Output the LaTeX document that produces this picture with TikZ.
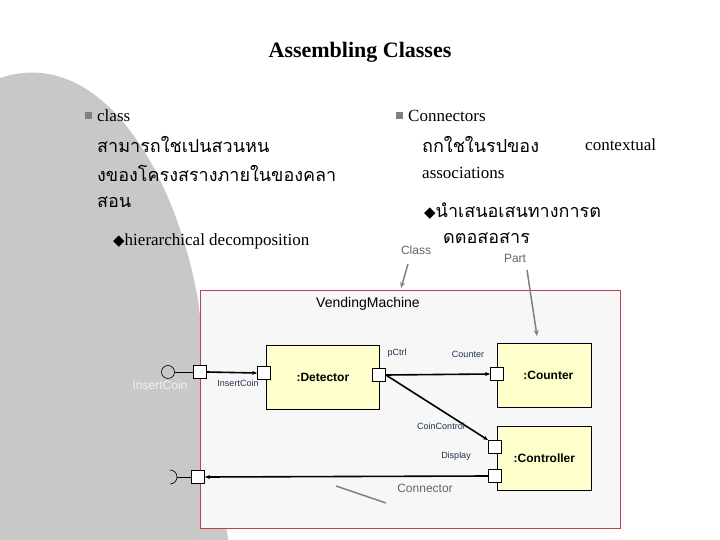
\documentclass[tikz,border=0pt]{standalone}
\usepackage{fontspec}
\setmainfont{Liberation Serif}
\newfontfamily\thai[Script=Thai]{Loma}
\newfontfamily\djfont{DejaVu Sans}
\newfontfamily\arl{Liberation Sans}
\usetikzlibrary{arrows.meta}
\definecolor{bgray}{HTML}{C8C8C8}
\definecolor{boxfill}{HTML}{F7F7F7}
\definecolor{boxline}{HTML}{C04050}
\definecolor{part}{HTML}{FFFFCC}
\definecolor{lbl}{HTML}{1F3050}
\tikzset{
 txt/.style={anchor=west,inner sep=0pt,font=\fontsize{17}{20}\selectfont},
 thaitxt/.style={anchor=west,inner sep=0pt,font=\thai\fontsize{18}{20}\selectfont},
 partbox/.style={draw,fill=part,line width=0.8pt,inner sep=0pt},
 portbox/.style={draw,fill=white,line width=0.8pt,minimum size=13pt,inner sep=0pt},
 small/.style={inner sep=0pt,font=\arl\fontsize{9}{10}\selectfont,text=lbl},
 conn/.style={line width=1.6pt,-{Stealth[length=5pt,width=4pt]}},
 grayarr/.style={draw=gray,line width=1.5pt,-{Stealth[length=6pt,width=5pt]}},
 bul/.style={fill=gray,minimum size=7pt,inner sep=0pt}
}
\begin{document}
\begin{tikzpicture}[x=1pt,y=-1pt]
\useasboundingbox (0,0) rectangle (720,540);
\fill[white] (0,0) rectangle (720,540);
\fill[bgray] (0,78) .. controls (100,45) and (175,170) .. (198,300) -- (228,540) -- (0,540) -- cycle;
\node[inner sep=0pt,font=\bfseries\fontsize{22}{25}\selectfont] (title) at (360,52) {Assembling Classes};
% left column
\node[bul] (b1) at (88,116) {};
\node[txt] (t1) at (97,116) {class};
\node[thaitxt] (t2) at (97,144) {สามารถใชเปนสวนหน};
\node[thaitxt] (t3) at (97,173) {งของโครงสรางภายในของคลา};
\node[thaitxt] (t4) at (97,202) {สอน};
\node[txt] (t5) at (113,241) {{\djfont\fontsize{15}{17}\selectfont◆}hierarchical decomposition};
% right column
\node[bul] (b2) at (399,116) {};
\node[txt] (r1) at (408,116) {Connectors};
\node[thaitxt] (r2) at (422,144) {ถกใชในรปของ};
\node[txt] (r3) at (585,145) {contextual};
\node[txt] (r4) at (422,173) {associations};
\node[thaitxt] (r5) at (424,211) {{\djfont\fontsize{15}{17}\selectfont◆}นำเสนอเสนทางการต};
\node[thaitxt] (r6) at (443,238) {ดตอสอสาร};
\node[inner sep=0pt,font=\arl\fontsize{12}{14}\selectfont,text=gray!80!black] (cls) at (416,250) {Class};
\node[inner sep=0pt,font=\arl\fontsize{12}{14}\selectfont,text=gray!80!black] (prt) at (515,258) {Part};
% outer box
\node[draw=boxline,fill=boxfill,line width=0.8pt,minimum width=420pt,minimum height=238pt,inner sep=0pt,anchor=north west] (vm) at (200,290) {};
\node[inner sep=0pt,font=\arl\fontsize{14}{16}\selectfont] (vmt) at (368,304) {VendingMachine};
\coordinate (ct) at (408,264);
\coordinate (ch) at (401,288);
\draw[grayarr] (ct) -- (ch);
\coordinate (pt) at (527,270);
\coordinate (ph) at (537,336);
\draw[grayarr] (pt) -- (ph);
% parts
\node[partbox,minimum width=113pt,minimum height=64pt,anchor=north west] (det) at (266,345) {};
\node[font=\arl\bfseries\fontsize{12}{14}\selectfont] at (det.center) {:Detector};
\node[partbox,minimum width=94pt,minimum height=64pt,anchor=north west] (cnt) at (497,343) {};
\node[font=\arl\bfseries\fontsize{12}{14}\selectfont] at ([xshift=4pt]cnt.center) {:Counter};
\node[partbox,minimum width=94pt,minimum height=64pt,anchor=north west] (ctl) at (497,426) {};
\node[font=\arl\bfseries\fontsize{12}{14}\selectfont] at (ctl.center) {:Controller};
% ports
\node[portbox] (op1) at (200,372) {};
\node[portbox] (dl) at (264,373) {};
\node[portbox] (dr) at (379,375) {};
\node[portbox] (cp) at (497,374) {};
\node[portbox] (k1) at (495,447) {};
\node[portbox] (k2) at (495,476) {};
\node[portbox] (op2) at (198,477) {};
% lollipop / socket
\node[draw,circle,minimum size=13pt,inner sep=0pt,line width=0.6pt] (lol) at (168,372) {};
\draw[line width=0.6pt] (lol.east) -- (op1.west);
\coordinate (sk) at (177,477);
\draw[line width=0.6pt] (sk) -- (op2.west);
\draw[line width=0.6pt] (170,470) arc (90:-90:7pt);
% connectors
\draw[conn] (op1.east) -- (dl.west);
\draw[conn] (dr.east) -- (cp.west);
\draw[conn] (dr.east) -- (k1.north west);
\draw[conn] (k2.west) -- (op2.east);
% labels
\node[inner sep=0pt,font=\arl\fontsize{12}{14}\selectfont,text=white!90!gray] (ic) at (160,385) {InsertCoin};
\node[small] (l1) at (238,383) {InsertCoin};
\node[small] (l2) at (397,353) {pCtrl};
\node[small] (l3) at (468,354) {Counter};
\node[small] (l4) at (441,426) {CoinControl};
\node[small] (l5) at (456,456) {Display};
\node[inner sep=0pt,font=\arl\fontsize{12}{14}\selectfont,text=gray!80!black] (cn) at (425,488) {Connector};
\coordinate (cs) at (386,503);
\coordinate (ce) at (336,486);
\draw[draw=gray,line width=1.5pt] (cs) -- (ce);
\end{tikzpicture}
\end{document}
